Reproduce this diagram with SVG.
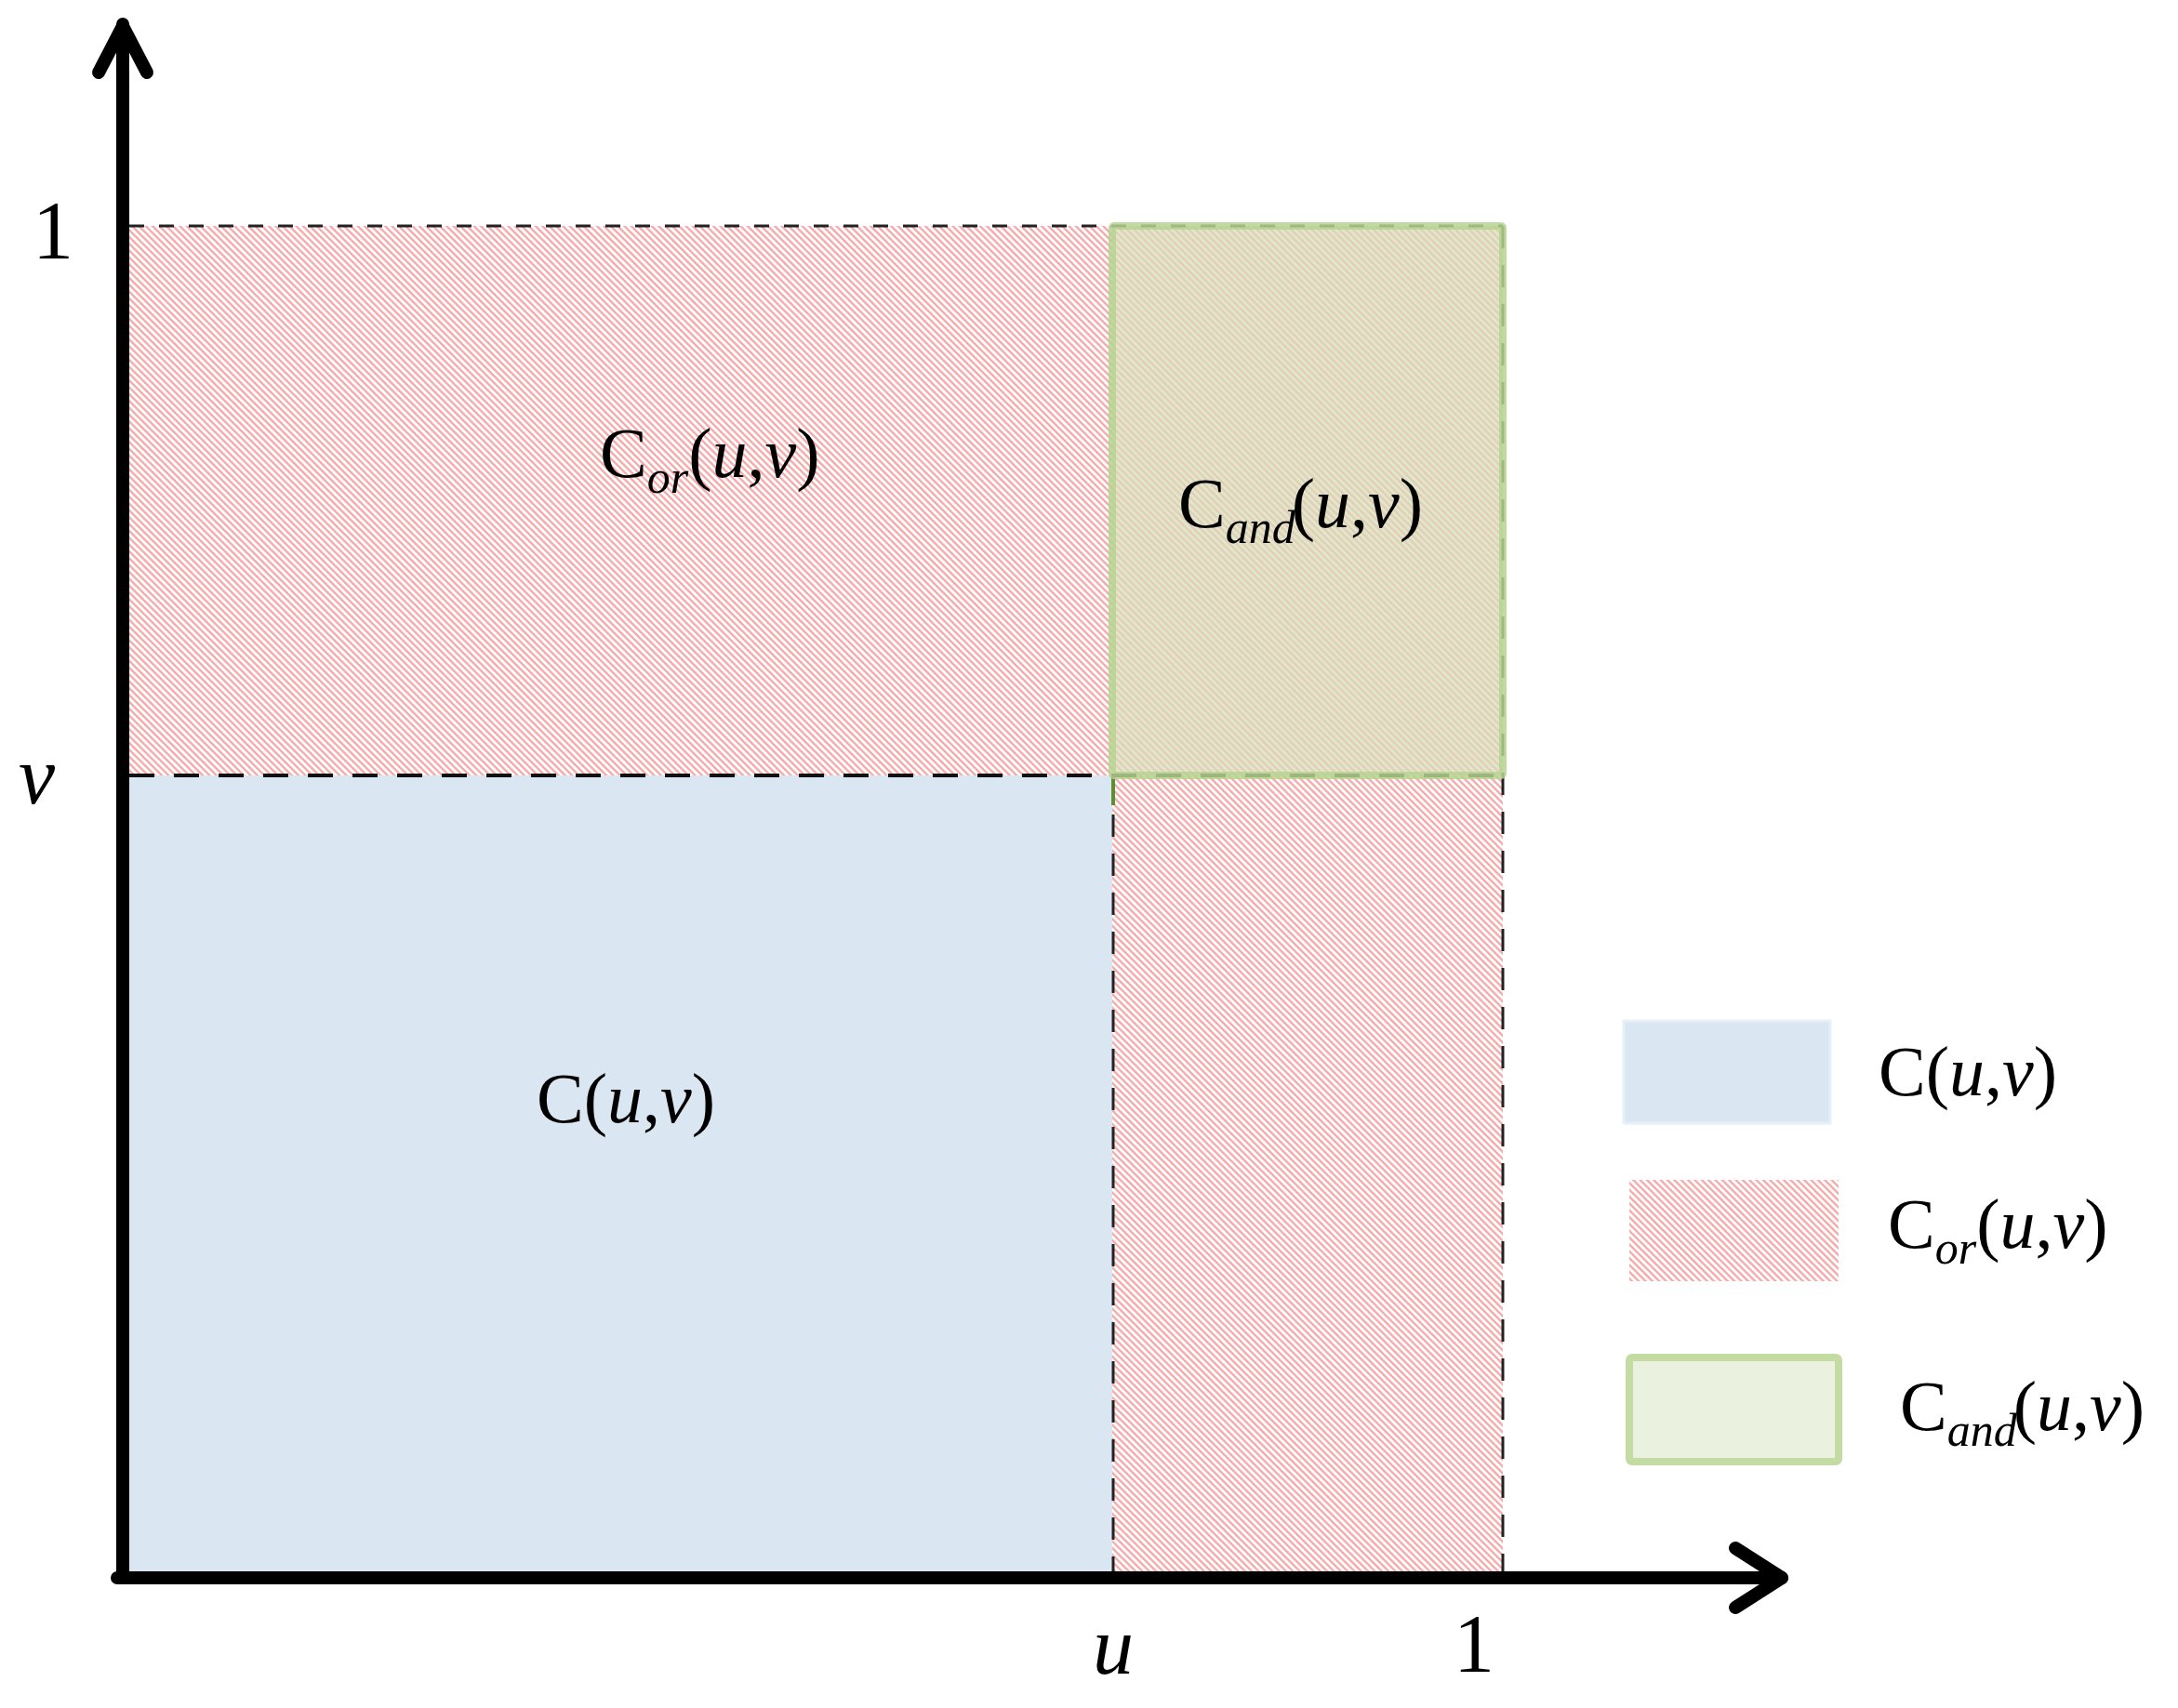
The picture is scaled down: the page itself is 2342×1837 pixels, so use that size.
<svg xmlns="http://www.w3.org/2000/svg" width="2342" height="1837" viewBox="0 0 2342 1837">
<style>
.lbl{font-family:"Liberation Serif","Times New Roman",serif;font-size:76px;fill:#000}
.ax{font-family:"Liberation Serif","Times New Roman",serif;font-size:88px;fill:#000}
.it{font-style:italic}
.sub{font-style:italic;font-size:50px}
.dash{stroke:#222;stroke-width:3;fill:none;stroke-dasharray:16 16}
.dashv{stroke:#222;stroke-width:3;fill:none;stroke-dasharray:24 18}
.dashb{stroke:#111;stroke-width:4;fill:none;stroke-dasharray:27 21}
.axis{stroke:#000;stroke-width:14;fill:none;stroke-linecap:round;stroke-linejoin:round}
</style>
<defs>
<pattern id="hatch" patternUnits="userSpaceOnUse" width="5.2" height="5.2" patternTransform="rotate(-45)">
<line x1="1.3" y1="-1" x2="1.3" y2="7" stroke="#f5a3a3" stroke-width="2.2"/>
</pattern>
</defs>
<rect width="2342" height="1837" fill="#fff"/>

<g id="region-c">
<rect x="132" y="834" width="1064" height="863" fill="#dae6f1"/>
<text class="lbl" x="577" y="1207">C(<tspan class="it">u</tspan>,<tspan class="it">v</tspan>)</text>
</g>

<g id="region-cor">
<rect x="132" y="243" width="1064" height="591" fill="url(#hatch)"/>
<rect x="1196" y="834" width="420" height="863" fill="url(#hatch)"/>
<text class="lbl" x="645" y="513">C<tspan class="sub" dy="17">or</tspan><tspan dy="-17">(</tspan><tspan class="it">u</tspan>,<tspan class="it">v</tspan>)</text>
</g>

<g id="region-cand">
<rect x="1196" y="243" width="420" height="591" fill="#dde9c8"/>
<rect x="1196" y="243" width="420" height="591" fill="url(#hatch)" opacity="0.45"/>
</g>

<g id="guides">
<line class="dash" x1="139" y1="243" x2="1616" y2="243"/>
<line class="dashb" x1="139" y1="834" x2="1616" y2="834"/>
<line class="dashv" x1="1197" y1="834" x2="1197" y2="1692"/>
<line class="dashv" x1="1616" y1="243" x2="1616" y2="1692"/>
<line x1="1197" y1="836" x2="1197" y2="866" stroke="#5e9030" stroke-width="4"/>
</g>

<g id="cand-border">
<rect x="1196" y="243" width="420" height="591" fill="none" stroke="#b5d391" stroke-width="8" stroke-opacity="0.85" rx="2"/>
<text class="lbl" x="1267" y="567">C<tspan class="sub" dy="17">and</tspan><tspan dx="-4" dy="-17">(</tspan><tspan class="it">u</tspan>,<tspan class="it">v</tspan>)</text>
</g>

<g id="axes">
<line class="axis" x1="132" y1="1697" x2="132" y2="26"/>
<polyline class="axis" points="106,78 132,28 158,78"/>
<line class="axis" x1="126" y1="1697" x2="1916" y2="1697"/>
<polyline class="axis" points="1866,1665 1916,1697 1866,1729"/>
<text class="ax" x="35" y="277">1</text>
<text class="ax it" x="20" y="864">v</text>
<text class="ax it" x="1197" y="1800" text-anchor="middle">u</text>
<text class="ax" x="1585" y="1797" text-anchor="middle">1</text>
</g>

<g id="legend">
<g id="legend-c">
<rect x="1746" y="1098" width="222" height="110" fill="#dae6f1" stroke="#e6f0fa" stroke-width="3"/>
<text class="lbl" x="2020" y="1178">C(<tspan class="it">u</tspan>,<tspan class="it">v</tspan>)</text>
</g>
<g id="legend-cor">
<rect x="1752" y="1269" width="225" height="109" fill="url(#hatch)"/>
<text class="lbl" x="2030" y="1342">C<tspan class="sub" dy="17">or</tspan><tspan dy="-17">(</tspan><tspan class="it">u</tspan>,<tspan class="it">v</tspan>)</text>
</g>
<g id="legend-cand">
<rect x="1752" y="1460" width="225" height="112" rx="3" fill="#ebf1df" stroke="#c4dca3" stroke-width="8"/>
<text class="lbl" x="2043" y="1538">C<tspan class="sub" dy="17">and</tspan><tspan dx="-4" dy="-17">(</tspan><tspan class="it">u</tspan>,<tspan class="it">v</tspan>)</text>
</g>
</g>
</svg>
